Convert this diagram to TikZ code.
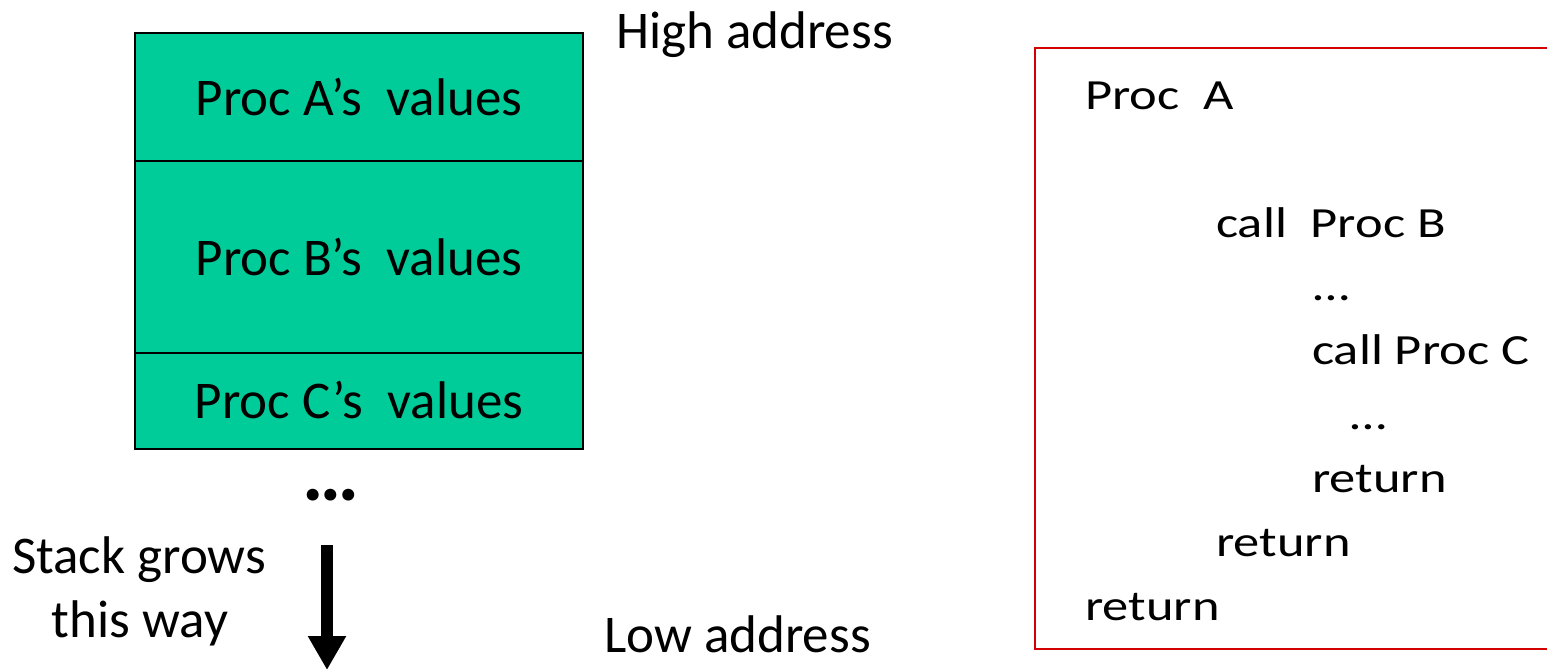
\documentclass[tikz,border=0pt]{standalone}
\usepackage{fontspec}
\setmainfont{Carlito}
\newfontfamily\widefont[FakeStretch=1.22]{Carlito}
\usetikzlibrary{arrows.meta}
\definecolor{stackgreen}{RGB}{0,204,153}
\definecolor{codered}{RGB}{210,0,0}
\begin{document}
\begin{tikzpicture}[x=1pt,y=-1pt,
  bigtxt/.style={font=\fontsize{53}{63}\selectfont, inner sep=0pt},
  codetxt/.style={font=\widefont\fontsize{43}{52}\selectfont, inner sep=0pt, anchor=base west},
  frame/.style={draw=black, line width=2pt, fill=stackgreen}]
\useasboundingbox (0,0) rectangle (1547,670);
% stack frames
\draw[frame] (135,33) rectangle (583,161);
\draw[frame] (135,161) rectangle (583,353);
\draw[frame] (135,353) rectangle (583,449);
\node[bigtxt, anchor=base] (fa) at (359,115) {Proc A’s~ values};
\node[bigtxt, anchor=base] (fb) at (359,275) {Proc B’s~ values};
\node[bigtxt, anchor=base] (fc) at (359,418) {Proc C’s~ values};
\node[bigtxt, anchor=base west] (hi) at (616,48) {High address};
\node[bigtxt, anchor=base west] (lo) at (604,652) {Low address};
\node[font=\bfseries\fontsize{80}{90}\selectfont, inner sep=0pt, anchor=base] (dots) at (331,500) {…};
\node[bigtxt, anchor=base] (sg1) at (139,573) {Stack grows};
\node[bigtxt, anchor=base] (sg2) at (140,637) {this way};
\coordinate (arrs) at (327,545);
\coordinate (arre) at (327,670);
\draw[line width=12pt, -{Triangle[width=36pt,length=34pt]}] (arrs) -- (arre);
% code box
\draw[codered, line width=2.5pt] (1035,48) rectangle (1600,649);
\node[codetxt] (l1) at (1085,109) {Proc~ A};
\node[codetxt] (l2) at (1216,237) {call~ Proc B};
\node[codetxt] (l3) at (1313,300) {…};
\node[codetxt] (l4) at (1312,364) {call Proc C};
\node[codetxt] (l5) at (1350,429) {…};
\node[codetxt] (l6) at (1312,492) {return};
\node[codetxt] (l7) at (1216,556) {return};
\node[codetxt] (l8) at (1085,620) {return};
\end{tikzpicture}
\end{document}
